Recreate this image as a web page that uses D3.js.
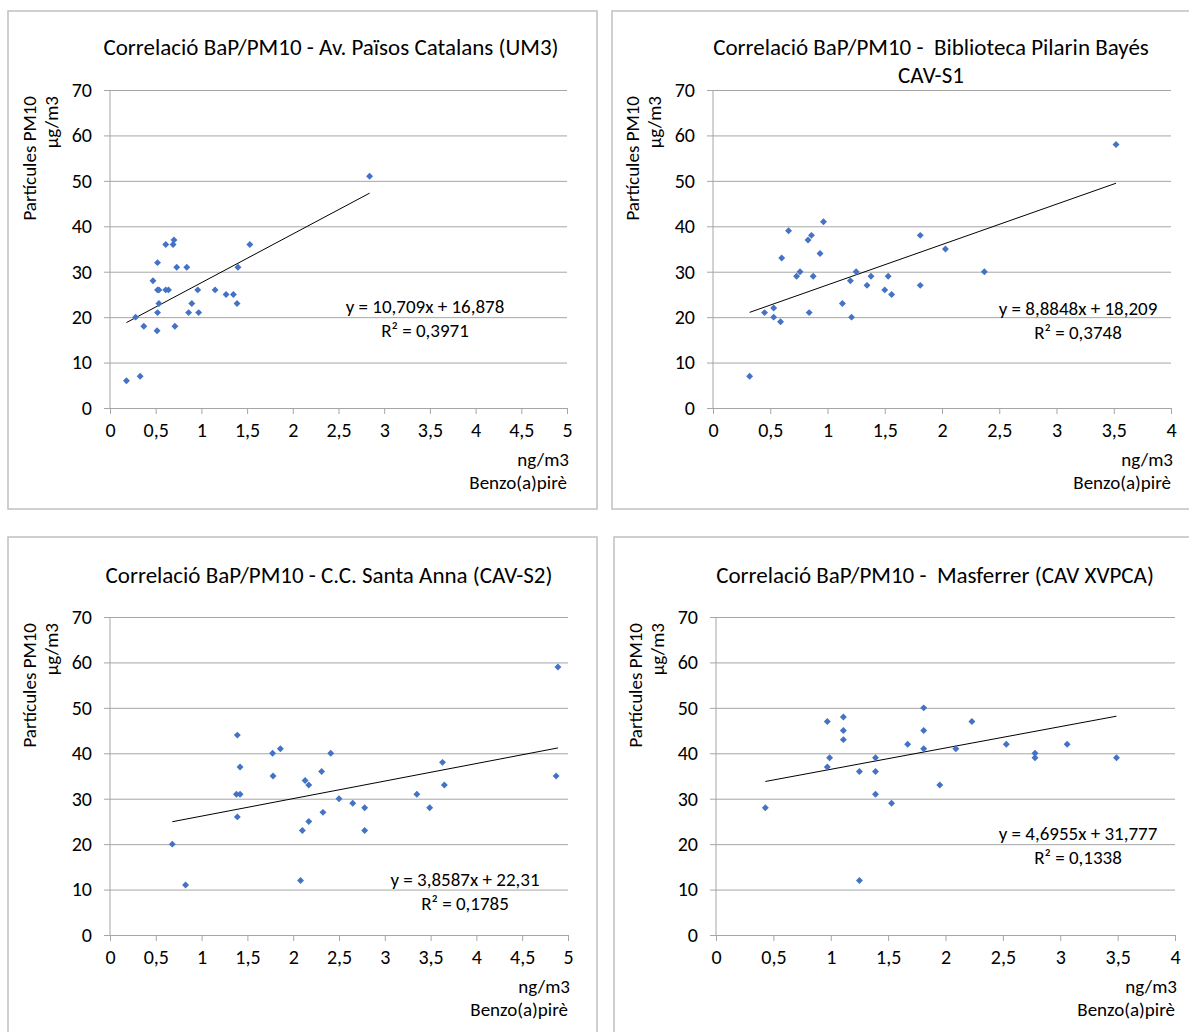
<!DOCTYPE html>
<html>
<head>
<meta charset="utf-8">
<script src="https://cdn.jsdelivr.net/npm/d3@7"></script>
<style>
  body { margin: 0; background: #fff; }
  svg text { font-family: Carlito, Calibri, Lato, sans-serif; fill: #000; white-space: pre; }
</style>
</head>
<body>
<div id="chart"></div>
<script>
// Av. Països Catalans (UM3)
const umBaP  = [0.18, 0.33, 0.28, 0.37, 0.47, 0.52, 0.52, 0.535, 0.535, 0.52, 0.515, 0.61, 0.61, 0.64, 0.69,
                0.70, 0.73, 0.71, 0.84, 0.86, 0.895, 0.96, 0.97, 1.15, 1.27, 1.35, 1.39, 1.40, 1.53, 2.84];
const umPM10 = [6, 7, 20, 18, 28, 32, 26, 26, 23, 21, 17, 36, 26, 26, 36,
                37, 31, 18, 31, 21, 23, 26, 21, 26, 25, 25, 23, 31, 36, 51];

// Biblioteca Pilarin Bayés (CAV-S1)
const s1BaP  = [0.32, 0.45, 0.53, 0.53, 0.59, 0.60, 0.66, 0.73, 0.76, 0.83, 0.86, 0.875, 0.84, 0.935, 0.965,
                1.13, 1.20, 1.21, 1.25, 1.345, 1.38, 1.50, 1.53, 1.56, 1.81, 1.81, 2.03, 2.37, 3.52];
const s1PM10 = [7, 21, 22, 20, 19, 33, 39, 29, 30, 37, 38, 29, 21, 34, 41,
                23, 28, 20, 30, 27, 29, 26, 29, 25, 38, 27, 35, 30, 58];

// C.C. Santa Anna (CAV-S2)
const s2BaP  = [0.68, 0.825, 1.39, 1.42, 1.38, 1.42, 1.39, 1.775, 1.86, 1.78, 2.13, 2.17, 2.31, 2.41,
                2.10, 2.17, 2.325, 2.08, 2.50, 2.65, 2.78, 2.78, 3.35, 3.49, 3.63, 3.65, 4.89, 4.87];
const s2PM10 = [20, 11, 44, 37, 31, 31, 26, 40, 41, 35, 34, 33, 36, 40,
                23, 25, 27, 12, 30, 29, 28, 23, 31, 28, 38, 33, 59, 35];

// Masferrer (CAV XVPCA)
const mfBaP  = [0.43, 0.97, 0.97, 0.99, 1.11, 1.11, 1.11, 1.25, 1.25, 1.39, 1.39, 1.39, 1.53, 1.67,
                1.81, 1.81, 1.81, 1.95, 2.09, 2.23, 2.53, 2.78, 2.78, 3.06, 3.49];
const mfPM10 = [28, 47, 37, 39, 48, 45, 43, 36, 12, 39, 36, 31, 29, 42,
                50, 45, 41, 33, 41, 47, 42, 40, 39, 42, 39];

const titles = [
  ["Correlació BaP/PM10 - Av. Països Catalans (UM3)"],
  ["Correlació BaP/PM10 -  Biblioteca Pilarin Bayés", "CAV-S1"],
  ["Correlació BaP/PM10 - C.C. Santa Anna (CAV-S2)"],
  ["Correlació BaP/PM10 -  Masferrer (CAV XVPCA)"]
];
const slopes = [10.709, 8.8848, 3.8587, 4.6955];
const intercepts = [16.878, 18.209, 22.31, 31.777];
const eqLabels = ["y = 10,709x + 16,878", "y = 8,8848x + 18,209", "y = 3,8587x + 22,31", "y = 4,6955x + 31,777"];
const r2Labels = ["R² = 0,3971", "R² = 0,3748", "R² = 0,1785", "R² = 0,1338"];
const xMaxes = [5, 4, 5, 4];
const yTicks = [0, 10, 20, 30, 40, 50, 60, 70];
const yTitle = ["Partícules PM10", "µg/m3"];
const xTitle = ["ng/m3", "Benzo(a)pirè"];

const W = 1189, H = 1032;
const svg = d3.select("#chart").append("svg").attr("width", W).attr("height", H);

// layout of each panel (pixels)
const layout = [
  { box: [8, 11, 589, 498], px: [110, 567], py: [408, 90], tx: 331, ty: 55, ex: 425, ey: 313 },
  { box: [612, 11, 600, 498], px: [713, 1171], py: [408, 90], tx: 931, ty: 55, ex: 1078, ey: 315 },
  { box: [8, 537, 589, 520], px: [110, 568], py: [935, 617], tx: 329, ty: 583, ex: 465, ey: 886 },
  { box: [614, 537, 600, 520], px: [716, 1175], py: [935, 617], tx: 935, ty: 583, ex: 1078, ey: 840 }
];
const data = [[umBaP, umPM10], [s1BaP, s1PM10], [s2BaP, s2PM10], [mfBaP, mfPM10]];

const fmt = d => String(d).replace(".", ",");
const gridColor = "#a6a6a6";

layout.forEach((L, i) => {
  const g = svg.append("g");
  const [bx, by, bw, bh] = L.box;
  g.append("rect").attr("x", bx).attr("y", by).attr("width", bw).attr("height", bh)
    .attr("fill", "none").attr("stroke", "#c0c0c0").attr("stroke-width", 1.5);

  const x = d3.scaleLinear().domain([0, xMaxes[i]]).range(L.px);
  const y = d3.scaleLinear().domain([0, 70]).range(L.py);

  // title
  titles[i].forEach((t, k) => {
    g.append("text").attr("x", L.tx).attr("y", L.ty + k * 28)
      .attr("text-anchor", "middle").attr("font-size", 23).text(t);
  });

  // horizontal gridlines + y labels
  const yAxis = d3.axisLeft(y).tickValues(yTicks).tickSize(-(L.px[1] - L.px[0])).tickSizeOuter(0)
    .tickPadding(18).tickFormat(fmt);
  const ya = g.append("g").attr("transform", `translate(${L.px[0]},0)`).call(yAxis);
  ya.select(".domain").remove();
  ya.selectAll(".tick line").attr("stroke", gridColor).attr("x1", -6);
  ya.selectAll(".tick text").attr("font-size", 20).attr("font-family", null).attr("fill", "#000");

  // x axis
  const xTickVals = d3.range(0, xMaxes[i] + 0.001, 0.5);
  const xAxis = d3.axisBottom(x).tickValues(xTickVals).tickSize(6).tickSizeOuter(0)
    .tickPadding(9).tickFormat(fmt);
  const xa = g.append("g").attr("transform", `translate(0,${L.py[0]})`).call(xAxis);
  xa.select(".domain").attr("stroke", gridColor);
  xa.selectAll(".tick line").attr("stroke", gridColor);
  xa.selectAll(".tick text").attr("font-size", 20).attr("font-family", null).attr("fill", "#000");

  // vertical axis line
  g.append("line").attr("x1", L.px[0]).attr("x2", L.px[0]).attr("y1", L.py[1]).attr("y2", L.py[0])
    .attr("stroke", gridColor);

  // y axis title (rotated, two lines)
  yTitle.forEach((t, k) => {
    g.append("text")
      .attr("transform", `translate(${L.px[0] - 74 + k * 22},${L.py[1] + 6}) rotate(-90)`)
      .attr("text-anchor", "end").attr("font-size", 19).text(t);
  });

  // x axis title
  xTitle.forEach((t, k) => {
    g.append("text").attr("x", L.px[1] + 2 - k * 2).attr("y", L.py[0] + 58 + k * 23)
      .attr("text-anchor", "end").attr("font-size", 19).text(t);
  });

  // trend line (linear fit from the chart)
  const [bap, pm] = data[i];
  const x0 = d3.min(bap), x1 = d3.max(bap);
  g.append("line")
    .attr("x1", x(x0)).attr("y1", y(slopes[i] * x0 + intercepts[i]))
    .attr("x2", x(x1)).attr("y2", y(slopes[i] * x1 + intercepts[i]))
    .attr("stroke", "#000").attr("stroke-width", 1);

  // points
  const sym = d3.symbol().type(d3.symbolSquare).size(24);
  g.selectAll("path.pt").data(bap.map((b, j) => [b, pm[j]])).join("path")
    .attr("class", "pt")
    .attr("d", sym)
    .attr("transform", d => `translate(${x(d[0])},${y(d[1])}) rotate(45)`)
    .attr("fill", "#4472c4");

  // equation
  g.append("text").attr("x", L.ex).attr("y", L.ey).attr("text-anchor", "middle")
    .attr("font-size", 19).text(eqLabels[i]);
  g.append("text").attr("x", L.ex).attr("y", L.ey + 24).attr("text-anchor", "middle")
    .attr("font-size", 19).text(r2Labels[i]);
});
</script>
</body>
</html>
